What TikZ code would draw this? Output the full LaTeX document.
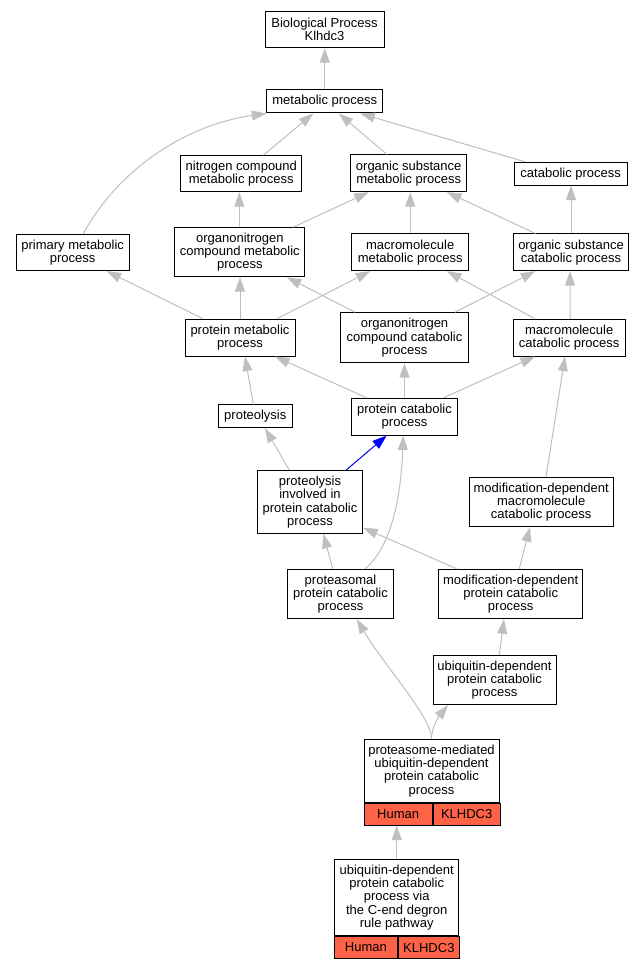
\documentclass[tikz,border=0pt]{standalone}
\usepackage{fontspec}
\setmainfont{Liberation Sans}
\usepackage{xcolor}
\usetikzlibrary{arrows.meta}
\definecolor{tomato}{HTML}{FF6347}

\begin{document}
\begin{tikzpicture}[x=1pt,y=-1pt,
	term/.style={draw=black,line width=1pt,fill=white,align=center,inner sep=0pt,font=\fontsize{13}{13.3}\selectfont},
	gene/.style={term,fill=tomato,minimum height=21.7pt,anchor=north west},
	isa/.style={draw=gray!50,line width=1pt,-{Triangle[length=14.5pt,width=10pt]}},
	hit/.style={isa,draw=blue}]
	\useasboundingbox (0,0) rectangle (644,968);
	
	\node [term,minimum width=119pt,minimum height=36pt] (bp) at (324.5,29.7) {Biological Process\\Klhdc3};
	\node [term,minimum width=116pt,minimum height=23pt] (met) at (324.8,101.5) {metabolic process};
	\node [term,minimum width=120.7pt,minimum height=36pt] (ncm) at (241.3,173.7) {nitrogen compound\\metabolic process};
	\node [term,minimum width=116pt,minimum height=36.7pt] (osm) at (408.7,173.3) {organic substance\\metabolic process};
	\node [term,minimum width=112.7pt,minimum height=22.7pt] (cat) at (570.7,173.7) {catabolic process};
	\node [term,minimum width=113.3pt,minimum height=36.3pt] (pm) at (72.7,252.5) {primary metabolic\\process};
	\node [term,minimum width=130.3pt,minimum height=49pt] (onm) at (239.8,252.2) {organonitrogen\\compound metabolic\\process};
	\node [term,minimum width=117pt,minimum height=36.7pt] (mm) at (410.2,252.3) {macromolecule\\metabolic process};
	\node [term,minimum width=115.4pt,minimum height=36.7pt] (osc) at (571,252.3) {organic substance\\catabolic process};
	\node [term,minimum width=110pt,minimum height=36.7pt] (prm) at (240,337.7) {protein metabolic\\process};
	\node [term,minimum width=127.7pt,minimum height=50pt] (onc) at (404.5,337.7) {organonitrogen\\compound catabolic\\process};
	\node [term,minimum width=111.7pt,minimum height=36.7pt] (mc) at (569.2,337.7) {macromolecule\\catabolic process};
	\node [term,minimum width=74pt,minimum height=22.7pt] (pro) at (255.3,416.3) {proteolysis};
	\node [term,minimum width=105.7pt,minimum height=36.7pt] (pc) at (404.5,416.7) {protein catabolic\\process};
	\node [term,minimum width=105.4pt,minimum height=62.6pt] (pip) at (310,502) {proteolysis\\involved in\\protein catabolic\\process};
	\node [term,minimum width=144.3pt,minimum height=49.4pt] (mdm) at (541.2,502) {modification-dependent\\macromolecule\\catabolic process};
	\node [term,minimum width=105.7pt,minimum height=49.4pt] (psm) at (340.5,594) {proteasomal\\protein catabolic\\process};
	\node [term,minimum width=144pt,minimum height=49.4pt] (mdp) at (510.7,594) {modification-dependent\\protein catabolic\\process};
	\node [term,minimum width=123pt,minimum height=49pt] (ubq) at (494.5,680) {ubiquitin-dependent\\protein catabolic\\process};
	
	% annotated terms
	\node [term,minimum width=135pt,minimum height=63pt] (pmu) at (431.5,770.8) {proteasome-mediated\\ubiquitin-dependent\\protein catabolic\\process};
	\node [gene,minimum width=68.3pt] (pmuh) at (pmu.south west) {Human};
	\node [gene,minimum width=66.7pt] (pmug) at (pmuh.north east) {KLHDC3};
	\node [term,minimum width=124pt,minimum height=76.4pt] (cend) at (396.7,897.5) {ubiquitin-dependent\\protein catabolic\\process via\\the C-end degron\\rule pathway};
	\node [gene,minimum width=62.3pt] (cendh) at (cend.south west) {Human};
	\node [gene,minimum width=61.7pt] (cendg) at (cendh.north east) {KLHDC3};
	
	\draw [isa] (met.north) -- (met.north |- bp.south);
	\draw [isa] ([xshift=22pt]ncm.north) -- ([xshift=-11.5pt]met.south);
	\draw [isa] ([xshift=-21.7pt]osm.north) -- ([xshift=14pt]met.south);
	\draw [isa] ([xshift=-45.4pt]cat.north) -- ([xshift=35.5pt]met.south);
	\draw [isa] ([xshift=10.6pt]pm.north) .. controls +(31.7,-59) and +(-86.7,12.3) .. (met.south west);
	\draw [isa] ([xshift=-0.5pt]onm.north) -- ([xshift=-2pt]ncm.south);
	\draw [isa] ([xshift=53.5pt]onm.north) -- ([xshift=-40pt]osm.south);
	\draw [isa] (mm.north) -- (mm.north |- osm.south);
	\draw [isa] ([xshift=-35.7pt]osc.north) -- ([xshift=38.3pt]osm.south);
	\draw [isa] (osc.north) -- (osc.north |- cat.south);
	\draw [isa] ([xshift=-36.7pt]prm.north) -- ([xshift=34pt]pm.south);
	\draw [isa] (prm.north) -- (prm.north |- onm.south);
	\draw [isa] ([xshift=36.7pt]prm.north) -- ([xshift=-40pt]mm.south);
	\draw [isa] ([xshift=-49.5pt]onc.north) -- ([xshift=47pt]onm.south);
	\draw [isa] ([xshift=50.5pt]onc.north) -- ([xshift=-35.7pt]osc.south);
	\draw [isa] ([xshift=-34.2pt]mc.north) -- ([xshift=36.8pt]mm.south);
	\draw [isa] ([xshift=1pt]mc.north) -- ([xshift=-1pt]osc.south);
	\draw [isa] ([xshift=-2pt]pro.north) -- ([xshift=5pt]prm.south);
	\draw [isa] ([xshift=-37.8pt]pc.north) -- ([xshift=35pt]prm.south);
	\draw [isa] (pc.north) -- (pc.north |- onc.south);
	\draw [isa] ([xshift=38.8pt]pc.north) -- ([xshift=-34.2pt]mc.south);
	\draw [isa] ([xshift=-20.7pt]pip.north) -- ([xshift=9.7pt]pro.south);
	\draw [hit] ([xshift=36pt]pip.north) -- ([xshift=-17.8pt]pc.south);
	\draw [isa] ([xshift=-7.8pt]psm.north) -- ([xshift=13.3pt]pip.south);
	\draw [isa] ([xshift=24.5pt]psm.north) .. controls +(30,-25) and +(-2,50) .. ([xshift=-1.2pt]pc.south);
	\draw [isa] ([xshift=-54pt]mdp.north) -- ([yshift=6pt]pip.south east);
	\draw [isa] ([xshift=8.6pt]mdp.north) -- ([xshift=-11.2pt]mdm.south);
	\draw [isa] ([xshift=4.8pt]mdm.north) -- ([xshift=-4.2pt]mc.south);
	\draw [isa] ([xshift=4.8pt]ubq.north) -- ([xshift=-6.7pt]mdp.south);
	\draw [isa] (pmu.north) .. controls +(0,-22) and +(28,47) .. ([xshift=16.2pt]psm.south);
	\draw [isa] (pmu.north) .. controls +(0,-12) and +(-8,10) .. ([xshift=-46.5pt]ubq.south);
	\draw [isa] (cend.north) -- (cend.north |- pmuh.south);
	
\end{tikzpicture}
\end{document}
